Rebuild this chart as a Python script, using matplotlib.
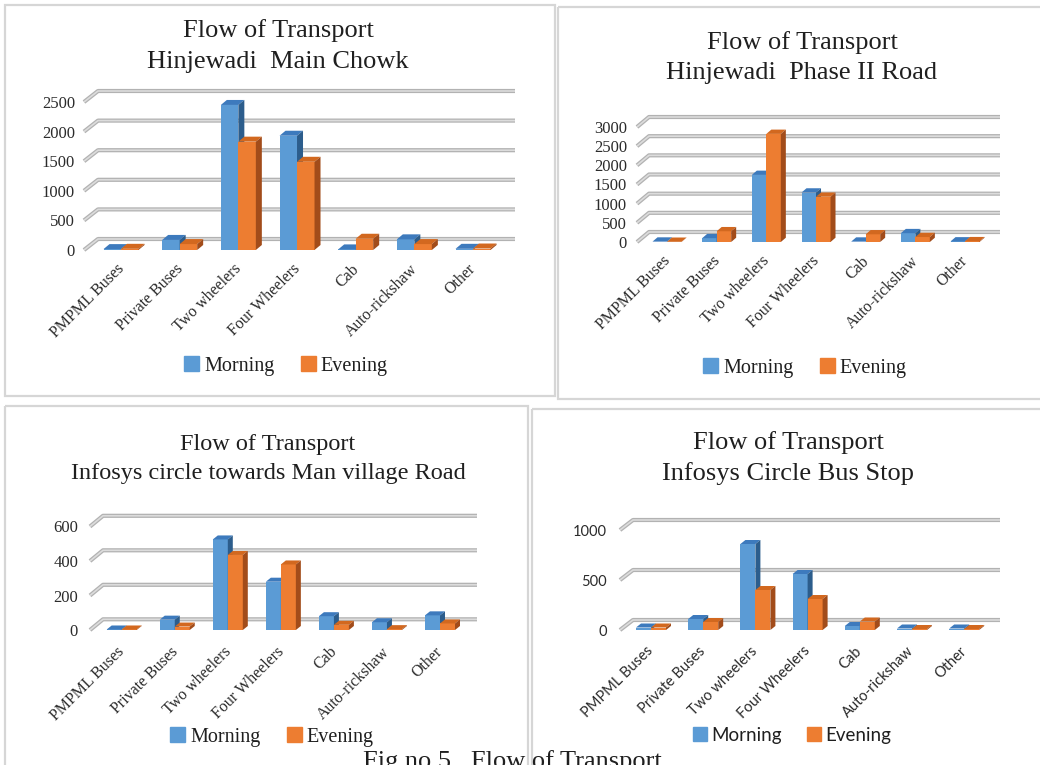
import matplotlib
matplotlib.use("Agg")
import matplotlib.pyplot as plt
from matplotlib.patches import Polygon, Rectangle, Patch
from matplotlib.transforms import ScaledTranslation
import numpy as np

# vehicle categories counted at each location
categories = ["PMPML Buses", "Private Buses", "Two wheelers", "Four Wheelers",
              "Cab", "Auto-rickshaw", "Other"]

main_chowk_morning = [15, 170, 2450, 1930, 10, 180, 20]
main_chowk_evening = [20, 100, 1830, 1490, 190, 100, 25]

phase2_morning = [10, 100, 1750, 1290, 10, 230, 15]
phase2_evening = [5, 280, 2820, 1180, 200, 130, 20]

man_road_morning = [3, 60, 525, 280, 80, 45, 85]
man_road_evening = [3, 20, 435, 380, 30, 5, 38]

bus_stop_morning = [25, 110, 860, 560, 40, 15, 15]
bus_stop_evening = [25, 80, 400, 310, 85, 10, 10]

W, H = 1040, 765
SERIF = "Liberation Serif"
SANS = "Lato"

BLUE = ("#5b9bd5", "#3d7abd", "#2c5d8c")      # front, top, side
ORANGE = ("#ed7d31", "#d2681f", "#a24c1a")

fig = plt.figure(figsize=(W / 100, H / 100), dpi=100)
bg = fig.add_axes([0, 0, 1, 1])
bg.set_xlim(0, W)
bg.set_ylim(H, 0)
bg.axis("off")

# panel frames
for (x, y, w, h) in [(5, 5, 550, 391), (558, 7, 520, 392),
                     (5, 406, 523, 420), (532, 409, 520, 420)]:
    bg.add_patch(Rectangle((x, y), w, h, fill=False, ec="#d6d6d6", lw=1.6))


def draw_panel(title2, morning, evening, ymax, step,
               x_left, x_right, y0, ppu, c0, spacing, bar_w,
               gd, bd, label_x, title_cx, title_base, title_fs,
               leg_cx, leg_y, tick_font, tick_fs, ytick_fs, leg_font, leg_fs,
               xpad):
    ax = fig.add_axes([x_left / W, (H - y0) / H,
                       (x_right - x_left) / W, ymax * ppu / H])
    x_lo = (x_left - c0) / spacing
    x_hi = (x_right - c0) / spacing
    ax.set_xlim(x_lo, x_hi)
    ax.set_ylim(0, ymax)
    ax.patch.set_visible(False)
    for s in ax.spines.values():
        s.set_visible(False)

    # back wall gridlines with the side-wall diagonal
    gdx, gdy = gd[0] / spacing, gd[1] / ppu
    for v in np.arange(0, ymax + 1, step):
        xs = [x_lo, x_lo + gdx, x_hi]
        ys = [v, v + gdy, v + gdy]
        ax.plot(xs, ys, color="#b2b2b2", lw=3.0, clip_on=False, zorder=1,
                solid_capstyle="butt")
        ax.plot(xs, ys, color="#dcdcdc", lw=1.2, clip_on=False, zorder=1.1,
                solid_capstyle="butt")

    # 3D-look columns: front face from ax.bar, top and side faces offset by depth
    w = bar_w / spacing
    ddx, ddy = bd[0] / spacing, bd[1] / ppu
    x = np.arange(len(categories))
    z = 2
    for vals, off, cols in [(morning, -w / 2, BLUE), (evening, w / 2, ORANGE)]:
        for xi, v in zip(x + off, vals):
            l, r = xi - w / 2, xi + w / 2
            ax.bar(xi, v, width=w, color=cols[0], zorder=z, clip_on=False)
            ax.add_patch(Polygon([(l, v), (r, v), (r + ddx, v + ddy), (l + ddx, v + ddy)],
                                 closed=True, fc=cols[1], ec="none", zorder=z, clip_on=False))
            ax.add_patch(Polygon([(r, 0), (r, v), (r + ddx, v + ddy), (r + ddx, ddy)],
                                 closed=True, fc=cols[2], ec="none", zorder=z, clip_on=False))
            z += 0.01

    ax.set_yticks(np.arange(0, ymax + 1, step))
    ax.set_yticklabels([str(int(t)) for t in np.arange(0, ymax + 1, step)],
                       family=tick_font, fontsize=ytick_fs, color="#2b2b2b")
    ax.tick_params(axis="y", length=0, pad=(x_left - label_x) * 0.72)
    ax.set_xticks(x)
    ax.set_xticklabels(categories, rotation=45, ha="right", va="top",
                       rotation_mode="anchor", family=tick_font,
                       fontsize=tick_fs, color="#2b2b2b")
    ax.tick_params(axis="x", length=0, pad=xpad)
    shift = ScaledTranslation(-5 / 100, 0, fig.dpi_scale_trans)
    for lab in ax.get_xticklabels():
        lab.set_transform(lab.get_transform() + shift)

    bg.text(title_cx, title_base[0], "Flow of Transport", ha="center",
            va="baseline", family=SERIF, fontsize=title_fs, color="#1f1f1f")
    bg.text(title_cx, title_base[1], title2, ha="center",
            va="baseline", family=SERIF, fontsize=title_fs, color="#1f1f1f")

    handles = [Patch(color=BLUE[0]), Patch(color=ORANGE[0])]
    ax.legend(handles, ["Morning", "Evening"], loc="center",
              bbox_to_anchor=(leg_cx / W, 1 - leg_y / H),
              bbox_transform=fig.transFigure, ncol=2, frameon=False,
              handlelength=0.75, handleheight=0.75, handletextpad=0.25,
              columnspacing=1.3, prop={"family": leg_font, "size": leg_fs},
              labelcolor="#1f1f1f")
    return ax


draw_panel("Hinjewadi  Main Chowk", main_chowk_morning, main_chowk_evening,
           2500, 500, 84, 515, 250, 29.6 / 500, 121, 58.67, 17.5,
           (14, 11), (6, 5), 75, 278, (37, 68), 19,
           286, 366, SERIF, 11.5, 12, SERIF, 14.5, 8)

draw_panel("Hinjewadi  Phase II Road", phase2_morning, phase2_evening,
           3000, 500, 637, 1000, 242, 115 / 3000, 667, 49.67, 14.5,
           (12, 10), (5, 4.3), 627, 802, (49, 79), 19,
           805, 368, SERIF, 11.5, 12, SERIF, 14.5, 8)

draw_panel("Infosys circle towards Man village Road", man_road_morning, man_road_evening,
           600, 200, 90, 477, 630, 103.5 / 600, 121.7, 53.05, 15,
           (13, 10.7), (5, 4), 78, 268, (450, 479), 17.5,
           272, 737, SERIF, 11.5, 12, SERIF, 14.5, 10)

draw_panel("Infosys Circle Bus Stop", bus_stop_morning, bus_stop_evening,
           1000, 500, 620, 1000, 630, 0.1, 651, 52.2, 15,
           (13, 10), (5, 4), 607, 788, (449, 480), 19,
           792, 735, SANS, 10.5, 10.5, SANS, 13.5, 10)

bg.text(512, 768, "Fig no 5.  Flow of Transport", ha="center", va="baseline",
        family=SERIF, fontsize=19, color="#1f1f1f")

fig.savefig("out.png", dpi=100)
